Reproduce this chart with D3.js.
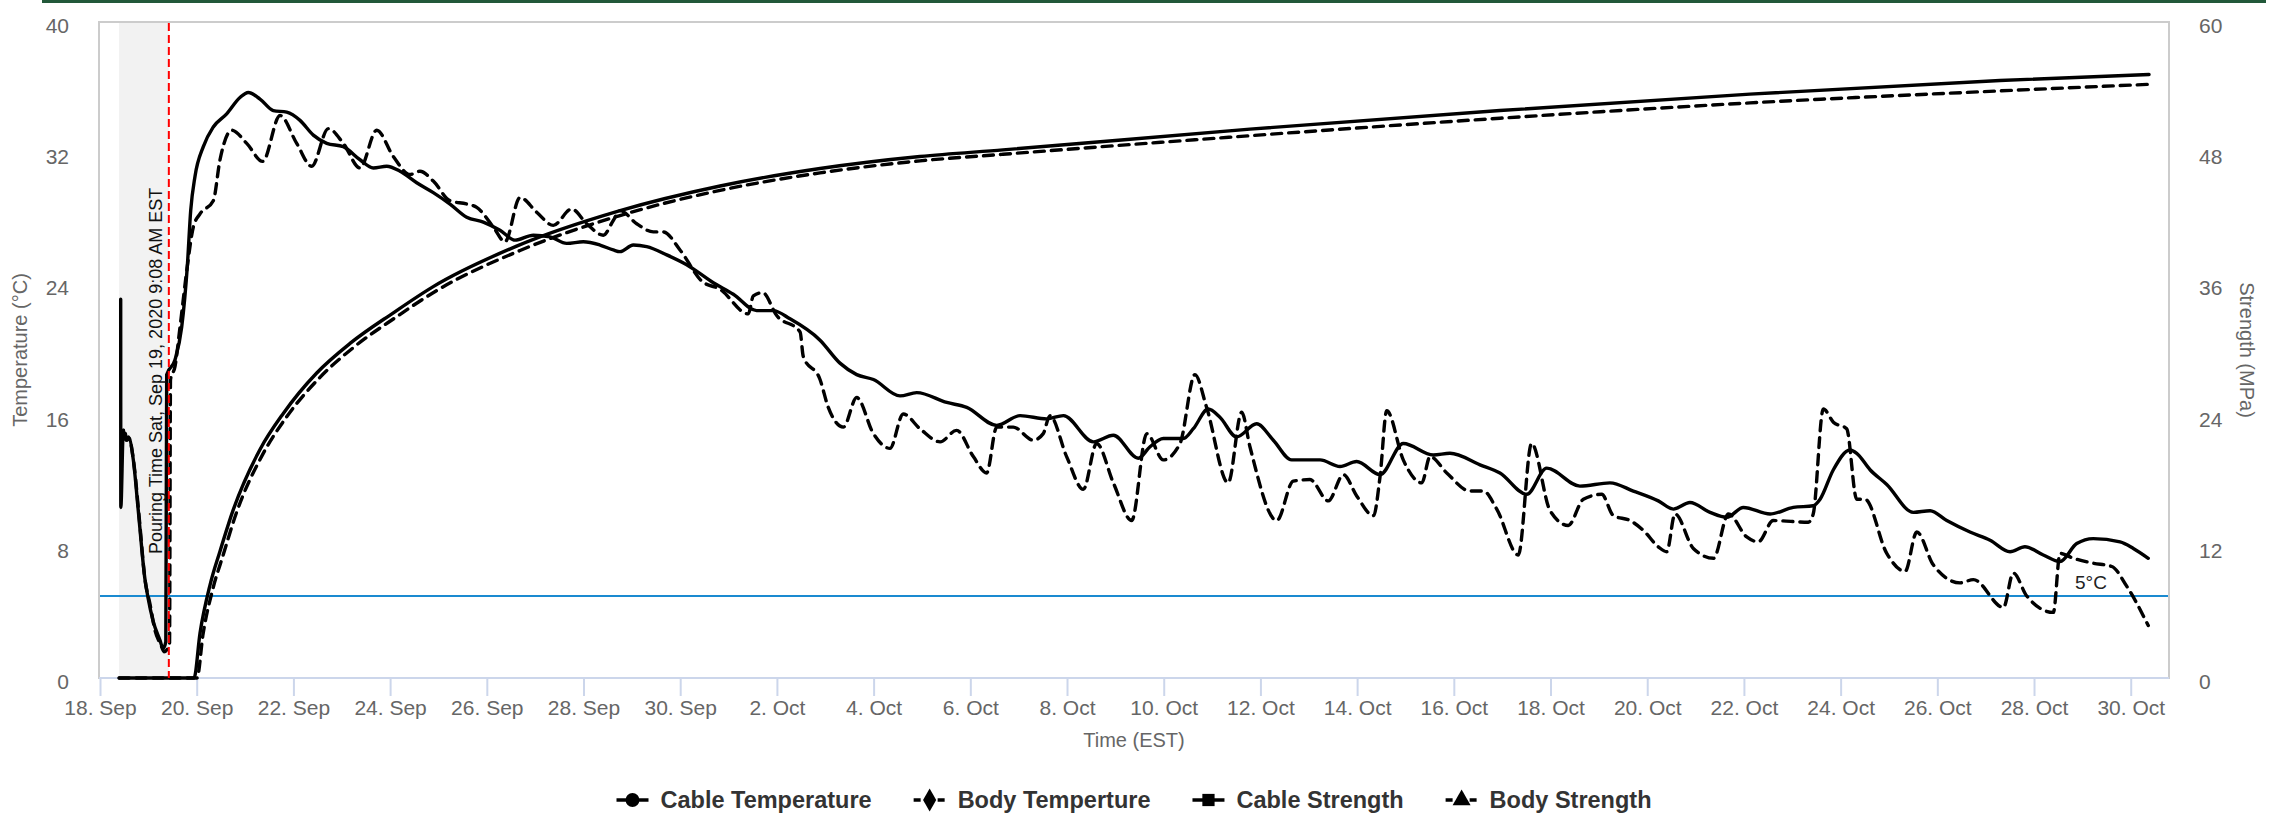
<!DOCTYPE html>
<html>
<head>
<meta charset="utf-8">
<script src="https://cdn.jsdelivr.net/npm/d3@7"></script>
<style>
  body { margin: 0; background: #fff; }
  svg { display: block; font-family: "Liberation Sans", Arial, Helvetica, sans-serif; }
</style>
</head>
<body>
<script>

// ---- data (times are 2020, EST) ----
var xTicks = ["09-18","09-20","09-22","09-24","09-26","09-28","09-30","10-02","10-04","10-06",
              "10-08","10-10","10-12","10-14","10-16","10-18","10-20","10-22","10-24","10-26","10-28","10-30"];
var tempTicks = [0, 8, 16, 24, 32, 40];
var strengthTicks = [0, 12, 24, 36, 48, 60];

var cableTemp = [
  ["09-18 10:16",23.1],["09-18 10:20",10.4],["09-18 11:34",15.1],["09-18 12:55",14.5],["09-18 14:03",14.7],
  ["09-18 16:32",13.3],["09-18 19:00",10.2],["09-18 22:20",6.0],["09-18 23:50",4.9],["09-19 02:18",3.5],
  ["09-19 05:47",2.3],["09-19 07:16",1.8],["09-19 08:40",2.2],["09-19 09:06",18.5],["09-19 13:14",19.4],
  ["09-19 16:33",21.4],["09-19 19:20",25.1],["09-19 21:01",28.5],["09-19 23:10",30.6],["09-20 03:17",32.4],
  ["09-20 08:14",33.6],["09-20 14:53",34.4],["09-20 21:29",35.4],["09-21 01:37",35.7],["09-21 07:25",35.3],
  ["09-21 14:01",34.6],["09-21 20:41",34.5],["09-22 03:17",34.0],["09-22 09:53",33.1],["09-22 16:32",32.6],
  ["09-23 00:46",32.4],["09-23 09:04",31.6],["09-23 15:40",31.1],["09-23 22:19",31.2],["09-24 04:55",30.9],
  ["09-24 13:12",30.2],["09-24 21:26",29.6],["09-25 05:44",28.9],["09-25 14:01",28.1],["09-25 22:16",27.8],
  ["09-26 06:33",27.3],["09-26 14:00",26.7],["09-26 23:05",27.0],["09-27 07:22",26.9],["09-27 15:40",26.5],
  ["09-27 23:54",26.6],["09-28 08:11",26.4],["09-28 14:47",26.1],["09-28 18:07",26.0],["09-29 00:43",26.4],
  ["09-29 07:22",26.3],["09-29 17:18",25.8],["09-30 03:13",25.2],["09-30 16:26",24.1],["10-01 02:22",23.4],
  ["10-01 13:55",22.4],["10-01 22:12",22.4],["10-02 06:30",21.9],["10-02 21:24",20.6],["10-03 07:18",19.2],
  ["10-03 15:36",18.5],["10-03 23:54",18.2],["10-04 13:06",17.2],["10-04 21:24",17.4],["10-05 12:18",16.8],
  ["10-05 22:12",16.5],["10-06 13:06",15.4],["10-07 00:42",16.0],["10-07 13:54",15.8],["10-07 22:12",16.0],
  ["10-08 13:06",14.4],["10-08 23:00",14.8],["10-09 11:24",13.4],["10-09 17:12",14.1],["10-09 23:48",14.6],
  ["10-10 09:42",14.6],["10-10 14:42",15.2],["10-10 22:06",16.4],["10-11 03:54",15.9],["10-11 12:12",14.7],
  ["10-11 22:06",15.5],["10-12 06:24",14.5],["10-12 15:30",13.3],["10-13 05:36",13.3],["10-13 15:30",12.9],
  ["10-13 23:48",13.2],["10-14 11:24",12.4],["10-14 22:54",14.3],["10-15 13:48",13.6],["10-15 22:06",13.7],
  ["10-16 13:00",13.0],["10-16 22:54",12.5],["10-17 12:12",11.2],["10-17 22:06",12.8],["10-18 14:36",11.7],
  ["10-19 05:30",11.9],["10-19 17:06",11.4],["10-20 05:30",10.8],["10-20 13:00",10.3],["10-20 21:12",10.7],
  ["10-21 07:12",10.1],["10-21 15:30",9.8],["10-21 23:42",10.4],["10-22 13:00",10.0],["10-23 00:30",10.4],
  ["10-23 10:24",10.5],["10-23 13:48",10.9],["10-23 20:24",12.7],["10-24 04:42",13.9],["10-24 08:00",13.7],
  ["10-24 14:36",12.7],["10-24 22:54",11.8],["10-25 12:06",10.1],["10-25 20:24",10.2],["10-26 04:42",9.6],
  ["10-26 16:12",8.9],["10-27 02:12",8.4],["10-27 12:06",7.7],["10-27 19:30",8.0],["10-28 04:36",7.5],
  ["10-28 12:54",7.1],["10-28 21:12",8.2],["10-29 05:24",8.5],["10-29 18:42",8.3],["10-30 01:18",7.9],
  ["10-30 08:42",7.3]
];

var bodyTemp = [
  ["09-18 10:55",14.5],["09-18 11:55",15.2],["09-18 13:24",14.5],["09-18 14:24",14.6],["09-18 16:53",13.0],
  ["09-18 19:22",9.9],["09-18 22:20",6.0],["09-19 00:49",4.5],["09-19 03:18",2.9],["09-19 06:17",2.0],
  ["09-19 07:46",1.6],["09-19 10:30",2.0],["09-19 11:00",18.2],["09-19 13:14",19.0],["09-19 15:43",21.4],
  ["09-19 19:20",25.1],["09-19 22:19",27.5],["09-20 01:38",28.3],["09-20 08:14",29.1],["09-20 11:34",31.6],
  ["09-20 17:22",33.4],["09-21 00:49",32.6],["09-21 08:46",31.5],["09-21 17:21",34.3],["09-22 01:38",32.6],
  ["09-22 09:05",31.2],["09-22 17:19",33.5],["09-23 00:46",32.6],["09-23 09:04",31.1],["09-23 17:21",33.4],
  ["09-24 01:35",31.8],["09-24 09:53",30.7],["09-24 14:50",30.9],["09-24 21:26",30.3],["09-25 05:44",29.1],
  ["09-25 14:01",28.9],["09-25 18:59",28.7],["09-26 03:13",27.5],["09-26 09:02",26.6],["09-26 16:29",29.3],
  ["09-27 00:46",28.4],["09-27 09:01",27.6],["09-27 18:08",28.6],["09-28 01:35",27.7],["09-28 09:50",27.0],
  ["09-28 14:47",27.9],["09-28 18:07",28.5],["09-29 02:24",27.7],["09-29 10:39",27.2],["09-29 15:36",27.2],
  ["09-29 23:54",26.1],["09-30 10:42",24.2],["09-30 19:48",23.7],["10-01 09:48",22.2],["10-01 12:18",23.3],
  ["10-01 16:54",23.5],["10-01 23:54",22.1],["10-02 11:30",21.1],["10-02 13:06",19.6],["10-02 21:24",18.2],
  ["10-03 01:30",16.5],["10-03 09:00",15.3],["10-03 15:36",17.1],["10-03 23:54",14.9],["10-04 08:06",14.0],
  ["10-04 14:42",16.1],["10-04 23:00",15.2],["10-05 09:00",14.4],["10-05 17:12",15.1],["10-06 01:30",13.5],
  ["10-06 08:06",12.5],["10-06 13:06",15.3],["10-06 21:18",15.3],["10-07 07:18",14.5],["10-07 12:12",14.9],
  ["10-07 15:30",16.0],["10-07 23:48",13.5],["10-08 08:06",11.5],["10-08 14:42",14.3],["10-08 23:00",11.9],
  ["10-09 08:06",9.6],["10-09 15:36",14.9],["10-09 23:48",13.3],["10-10 08:06",14.3],["10-10 15:30",18.5],
  ["10-10 21:18",16.5],["10-11 08:00",11.9],["10-11 14:42",16.2],["10-11 18:48",14.1],["10-12 08:06",9.6],
  ["10-12 16:18",12.0],["10-13 00:36",12.1],["10-13 09:42",10.8],["10-13 17:12",12.4],["10-13 23:48",11.1],
  ["10-14 08:06",9.9],["10-14 11:24",12.3],["10-14 14:42",16.3],["10-14 22:54",13.3],["10-15 08:06",11.9],
  ["10-15 12:12",13.5],["10-15 20:30",12.5],["10-16 08:00",11.4],["10-16 14:42",11.4],["10-16 21:18",10.3],
  ["10-17 08:00",7.5],["10-17 14:36",14.3],["10-17 23:48",10.2],["10-18 08:48",9.3],["10-18 16:18",10.9],
  ["10-19 01:24",11.2],["10-19 07:12",9.9],["10-19 15:30",9.6],["10-19 22:06",9.0],["10-20 05:30",8.0],
  ["10-20 09:42",7.7],["10-20 13:48",10.0],["10-20 22:54",7.9],["10-21 08:54",7.3],["10-21 16:18",10.0],
  ["10-22 01:24",8.6],["10-22 07:06",8.3],["10-22 14:36",9.6],["10-23 08:00",9.5],["10-23 10:24",10.0],
  ["10-23 15:24",16.4],["10-23 20:24",15.6],["10-24 03:00",15.2],["10-24 08:00",10.9],["10-24 12:06",10.9],
  ["10-24 22:54",7.6],["10-25 08:00",6.5],["10-25 13:48",8.9],["10-25 22:00",6.9],["10-26 11:18",5.8],
  ["10-26 17:54",6.0],["10-27 08:48",4.3],["10-27 13:42",6.4],["10-27 20:24",5.0],["10-28 09:36",4.0],
  ["10-28 12:54",7.6],["10-28 19:36",7.3],["10-29 05:24",7.0],["10-29 14:36",6.8],["10-29 22:00",5.6],
  ["10-30 08:42",3.2]
];

var cableStrength = [
  ["09-18 09:30",0],["09-19 22:40",0],["09-20 01:38",4.1],["09-20 06:36",8.5],["09-20 11:34",11.6],
  ["09-20 18:10",15.4],["09-21 07:25",20.9],["09-21 18:59",24.2],["09-22 11:34",27.9],["09-23 04:06",30.6],
  ["09-24 01:36",33.4],["09-24 21:24",35.8],["09-26 14:48",39.5],["09-28 17:18",42.7],["09-30 19:48",45.0],
  ["10-02 21:24",46.6],["10-04 23:00",47.7],["10-06 16:12",48.3],["10-11 18:48",50.2],["10-16 22:54",51.9],
  ["10-22 03:00",53.4],["10-27 07:06",54.65],["10-30 09:06",55.2]
];

var bodyStrength = [
  ["09-18 09:30",0],["09-20 00:09",0],["09-20 03:08",4.0],["09-20 08:05",8.2],["09-20 13:03",11.2],
  ["09-20 19:30",15.0],["09-21 08:54",20.5],["09-21 20:18",23.8],["09-22 13:12",27.5],["09-23 05:36",30.2],
  ["09-24 02:54",33.0],["09-24 22:48",35.4],["09-26 16:30",39.1],["09-28 18:06",42.3],["09-30 19:48",44.6],
  ["10-02 21:24",46.2],["10-04 23:00",47.3],["10-06 16:12",47.9],["10-11 18:48",49.6],["10-16 22:54",51.2],
  ["10-22 03:00",52.6],["10-27 07:06",53.7],["10-30 09:06",54.3]
];

var pourTime = "09-19 10:10";
var bandStart = "09-18 09:26";
var tempLimit = 5;

// ---- layout ----
var W = 2286, H = 819;
var plot = {left: 99, right: 2169, top: 22, bottom: 678};

var parse = s => d3.timeParse("%Y-%m-%d %H:%M")("2020-" + s);
var parseDay = s => d3.timeParse("%Y-%m-%d")("2020-" + s);

var x = d3.scaleTime()
    .domain([parse("09-17 23:30"), parse("10-30 19:00")])
    .range([plot.left, plot.right]);
var yT = d3.scaleLinear().domain([0, 40]).range([plot.bottom, plot.top]);
var yS = d3.scaleLinear().domain([0, 60]).range([plot.bottom, plot.top]);

var svg = d3.select("body").append("svg")
    .attr("width", W)
    .attr("height", H);

// top bar
svg.append("rect").attr("x", 42).attr("y", 0).attr("width", 2224).attr("height", 3).attr("fill", "#22583a");

// plot frame
svg.append("rect")
    .attr("x", plot.left).attr("y", plot.top)
    .attr("width", plot.right - plot.left).attr("height", plot.bottom - plot.top)
    .attr("fill", "none").attr("stroke", "#cccccc").attr("stroke-width", 2);

// shaded band before pouring
svg.append("rect")
    .attr("x", x(parse(bandStart))).attr("y", plot.top + 1)
    .attr("width", x(parse(pourTime)) - x(parse(bandStart)))
    .attr("height", plot.bottom - plot.top - 1)
    .attr("fill", "#f2f2f2");

// 5 C line
svg.append("line")
    .attr("x1", plot.left + 1).attr("x2", plot.right - 1)
    .attr("y1", yT(tempLimit)).attr("y2", yT(tempLimit))
    .attr("stroke", "#1a8ad0").attr("stroke-width", 2);

svg.append("text")
    .attr("x", 2075).attr("y", yT(tempLimit) - 7)
    .attr("font-size", 19).attr("fill", "#222")
    .text("5°C");

// x axis
var xAxis = d3.axisBottom(x)
    .tickValues(xTicks.map(parseDay))
    .tickFormat(d3.timeFormat("%-d. %b"))
    .tickSize(18)
    .tickPadding(4);

var gx = svg.append("g")
    .attr("transform", `translate(0,${plot.bottom})`)
    .call(xAxis);
gx.select(".domain").attr("stroke", "#ccd6eb").attr("stroke-width", 2)
    .attr("d", `M${plot.left},0H${plot.right}`);
gx.selectAll(".tick line").attr("stroke", "#ccd6eb").attr("stroke-width", 2);
gx.selectAll(".tick text").attr("fill", "#666").attr("font-size", 21).attr("font-family", null);

svg.append("text")
    .attr("x", (plot.left + plot.right) / 2).attr("y", 747)
    .attr("text-anchor", "middle").attr("font-size", 20).attr("fill", "#666")
    .text("Time (EST)");

// y axes
var gl = svg.append("g")
    .attr("transform", "translate(69,0)")
    .call(d3.axisLeft(yT).tickValues(tempTicks).tickSize(0).tickPadding(0));
gl.select(".domain").remove();
gl.selectAll(".tick text").attr("fill", "#666").attr("font-size", 21).attr("dy", "0.5em").attr("font-family", null);

var gr = svg.append("g")
    .attr("transform", "translate(2199,0)")
    .call(d3.axisRight(yS).tickValues(strengthTicks).tickSize(0).tickPadding(0));
gr.select(".domain").remove();
gr.selectAll(".tick text").attr("fill", "#666").attr("font-size", 21).attr("dy", "0.5em").attr("font-family", null);

svg.append("text")
    .attr("transform", "translate(27,350) rotate(-90)")
    .attr("text-anchor", "middle").attr("font-size", 20).attr("fill", "#666")
    .text("Temperature (°C)");

svg.append("text")
    .attr("transform", "translate(2240,350) rotate(90)")
    .attr("text-anchor", "middle").attr("font-size", 20).attr("fill", "#666")
    .text("Strength (MPa)");

// series
var series = [
  {name: "Cable Temperature", data: cableTemp, y: yT, dash: null, marker: "circle"},
  {name: "Body Temperture", data: bodyTemp, y: yT, dash: "10,7", marker: "diamond"},
  {name: "Cable Strength", data: cableStrength, y: yS, dash: null, marker: "square"},
  {name: "Body Strength", data: bodyStrength, y: yS, dash: "10,7", marker: "triangle"}
];

series.forEach(function(s) {
  var line = d3.line()
      .x(d => x(parse(d[0])))
      .y(d => s.y(d[1]))
      .curve(d3.curveMonotoneX);
  svg.append("path")
      .datum(s.data)
      .attr("d", line)
      .attr("fill", "none")
      .attr("stroke", "#000")
      .attr("stroke-width", 3.4)
      .attr("stroke-linejoin", "round")
      .attr("stroke-linecap", "round")
      .attr("stroke-dasharray", s.dash);
});

// pouring time line
svg.append("line")
    .attr("x1", x(parse(pourTime))).attr("x2", x(parse(pourTime)))
    .attr("y1", plot.top + 1).attr("y2", plot.bottom)
    .attr("stroke", "#ff0000").attr("stroke-width", 2)
    .attr("stroke-dasharray", "8,4");

svg.append("text")
    .attr("transform", `translate(${x(parse(pourTime)) - 7},554) rotate(-90)`)
    .attr("font-size", 18).attr("fill", "#111")
    .text("Pouring Time Sat, Sep 19, 2020 9:08 AM EST");

// legend
var symbols = {
  circle: d3.symbolCircle, diamond: d3.symbolDiamond,
  square: d3.symbolSquare, triangle: d3.symbolTriangle
};
var legend = svg.append("g");
var items = legend.selectAll("g").data(series).enter().append("g");
items.append("line")
    .attr("x1", 0).attr("x2", 32).attr("y1", 0).attr("y2", 0)
    .attr("stroke", "#000").attr("stroke-width", 3.4)
    .attr("stroke-dasharray", d => d.dash ? "7,5" : null);
items.append("path")
    .attr("transform", "translate(16,0)")
    .attr("d", d => d3.symbol().type(symbols[d.marker]).size(d.marker === "triangle" ? 140 : 150)())
    .attr("fill", "#000");
items.append("text")
    .attr("x", 44).attr("y", 8)
    .attr("font-size", 23.5).attr("font-weight", "bold").attr("fill", "#333")
    .text(d => d.name);

var widths = [];
items.each(function() { widths.push(44 + d3.select(this).select("text").node().getComputedTextLength()); });
var gap = 42;
var total = d3.sum(widths) + gap * (widths.length - 1);
var cx = (plot.left + plot.right) / 2 - total / 2;
items.attr("transform", function(d, i) {
  var t = `translate(${cx},800)`;
  cx += widths[i] + gap;
  return t;
});

</script>
</body>
</html>
